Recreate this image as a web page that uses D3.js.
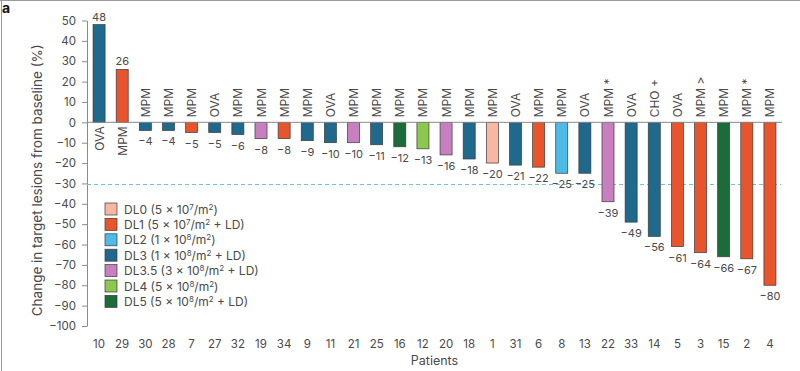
<!DOCTYPE html>
<html>
<head>
<meta charset="utf-8">
<script src="https://cdn.jsdelivr.net/npm/d3@7"></script>
<style>
  body { margin: 0; background: #fff; }
  text { font-family: Inter, "Liberation Sans", sans-serif; fill: #4a4a4a; }
</style>
</head>
<body>
<svg id="chart" width="800" height="371"></svg>
<script>
// data
const patients = ["10","29","30","28","7","27","32","19","34","9","11","21","25","16","12",
  "20","18","1","31","6","8","13","22","33","14","5","3","15","2","4"];
const changes = [48, 26, -4, -4, -5, -5, -6, -8, -8, -9, -10, -10, -11, -12, -13,
  -16, -18, -20, -21, -22, -25, -25, -39, -49, -56, -61, -64, -66, -67, -80];
const tumours = ["OVA","MPM","MPM","MPM","MPM","OVA","MPM","MPM","MPM","MPM","OVA","MPM","MPM","MPM","MPM",
  "MPM","MPM","MPM","OVA","MPM","MPM","OVA","MPM *","OVA","CHO +","OVA","MPM >","MPM","MPM *","MPM"];
const doseLevels = ["DL3","DL1","DL3","DL3","DL1","DL3","DL3","DL3.5","DL1","DL3","DL3","DL3.5","DL3","DL5","DL4",
  "DL3.5","DL3","DL0","DL3","DL1","DL2","DL3","DL3.5","DL3","DL3","DL1","DL1","DL5","DL1","DL1"];
const yTicks = [50, 40, 30, 20, 10, 0, -10, -20, -30, -40, -50, -60, -70, -80, -90, -100];
const legendKeys = ["DL0","DL1","DL2","DL3","DL3.5","DL4","DL5"];
// legend label parts: [text, superscript, text, superscript, text]
const legendLabels = [
  ["DL0 (5 × 10", "7", "/m", "2", ")"],
  ["DL1 (5 × 10", "7", "/m", "2", " + LD)"],
  ["DL2 (1 × 10", "8", "/m", "2", ")"],
  ["DL3 (1 × 10", "8", "/m", "2", " + LD)"],
  ["DL3.5 (3 × 10", "8", "/m", "2", " + LD)"],
  ["DL4 (5 × 10", "8", "/m", "2", ")"],
  ["DL5 (5 × 10", "8", "/m", "2", " + LD)"]
];
const legendColors = ["#f8b7a3", "#e8542b", "#4dbbe6", "#1f6a8c", "#c77fbf", "#8dc84e", "#1c6b3a"];

const svg = d3.select("#chart");

const color = d3.scaleOrdinal().domain(legendKeys).range(legendColors);

const x = d3.scaleBand()
  .domain(patients)
  .range([87.5, 781.5])
  .paddingInner(0.48)
  .paddingOuter(0.24);

const y = d3.scaleLinear().domain([-100, 50]).range([326, 20.5]);

// frame lines
svg.append("line").attr("x1", 0).attr("x2", 800).attr("y1", 0.5).attr("y2", 0.5)
  .attr("stroke", "#9a9a9a");
svg.append("line").attr("x1", 1.5).attr("x2", 1.5).attr("y1", 0).attr("y2", 371)
  .attr("stroke", "#9a9a9a");

svg.append("text").attr("x", 2).attr("y", 13)
  .style("font-weight", "bold").style("font-size", "14px").style("fill", "#111")
  .text("a");

// y axis
const yAxis = svg.append("g")
  .attr("transform", "translate(87,0)")
  .call(d3.axisLeft(y).tickValues(yTicks).tickSize(5).tickPadding(6).tickSizeOuter(0));
yAxis.select(".domain").attr("stroke", "#8a8a8a");
yAxis.selectAll(".tick line").attr("stroke", "#8a8a8a");
yAxis.selectAll(".tick text")
  .style("font-size", "11.5px").style("fill", "#4a4a4a")
  .style("font-family", "Inter, 'Liberation Sans', sans-serif");

svg.append("text")
  .attr("transform", `translate(42,${(y(50) + y(-100)) / 2 + 7}) rotate(-90)`)
  .attr("text-anchor", "middle")
  .style("font-size", "13.5px")
  .text("Change in target lesions from baseline (%)");

// -30% threshold
svg.append("line")
  .attr("x1", 87).attr("x2", 781)
  .attr("y1", y(-30) + 1).attr("y2", y(-30) + 1)
  .attr("stroke", "#6fc2dd").attr("stroke-width", 1.1)
  .attr("stroke-dasharray", "4,3");

// bars
const rows = patients.map((p, i) => ({
  p, v: changes[i], t: tumours[i], dl: doseLevels[i]
}));

svg.append("g").selectAll("rect")
  .data(rows).join("rect")
  .attr("x", d => x(d.p))
  .attr("width", x.bandwidth())
  .attr("y", d => Math.min(y(d.v), y(0)))
  .attr("height", d => Math.abs(y(d.v) - y(0)))
  .attr("fill", d => color(d.dl))
  .attr("stroke", "#3b3b3b")
  .attr("stroke-width", 0.7);

// zero line
svg.append("line")
  .attr("x1", 87).attr("x2", 782)
  .attr("y1", y(0)).attr("y2", y(0))
  .attr("stroke", "#8a8a8a");

// value labels
svg.append("g").selectAll("text")
  .data(rows).join("text")
  .attr("x", d => x(d.p) + x.bandwidth() / 2)
  .attr("y", d => d.v >= 0 ? y(d.v) - 4 : y(d.v) + 15)
  .attr("text-anchor", "middle")
  .style("font-size", "11px")
  .text(d => d.v >= 0 ? d.v : "−" + Math.abs(d.v));

// tumour type labels, rotated
svg.append("g").selectAll("text")
  .data(rows).join("text")
  .attr("transform", d => {
    const cx = x(d.p) + x.bandwidth() / 2 + 4.5;
    const cy = d.v >= 0 ? y(0) + 4 : y(0) - 5;
    return `translate(${cx},${cy}) rotate(-90)`;
  })
  .attr("text-anchor", d => d.v >= 0 ? "end" : "start")
  .style("font-size", "12px")
  .text(d => d.t);

// patient ids
svg.append("g").selectAll("text")
  .data(rows).join("text")
  .attr("x", d => x(d.p) + x.bandwidth() / 2)
  .attr("y", 348)
  .attr("text-anchor", "middle")
  .style("font-size", "11.5px")
  .text(d => d.p);

svg.append("text")
  .attr("x", (87 + 782) / 2).attr("y", 365)
  .attr("text-anchor", "middle")
  .style("font-size", "12.5px")
  .text("Patients");

// legend
const legend = svg.append("g").attr("transform", "translate(105,203)");
const item = legend.selectAll("g")
  .data(legendKeys).join("g")
  .attr("transform", (d, i) => `translate(0,${i * 15.4})`);
item.append("rect")
  .attr("width", 12).attr("height", 12)
  .attr("fill", d => color(d))
  .attr("stroke", "#3b3b3b").attr("stroke-width", 0.7);
item.each(function(d, i) {
  const parts = legendLabels[i];
  const t = d3.select(this).append("text")
    .attr("x", 19).attr("y", 10.5)
    .style("font-size", "12px");
  parts.forEach((s, j) => {
    const sup = j % 2 === 1;
    t.append("tspan")
      .attr("dy", sup ? -4 : (j > 0 ? 4 : 0))
      .style("font-size", sup ? "8px" : "12px")
      .text(s);
  });
});
</script>
</body>
</html>
